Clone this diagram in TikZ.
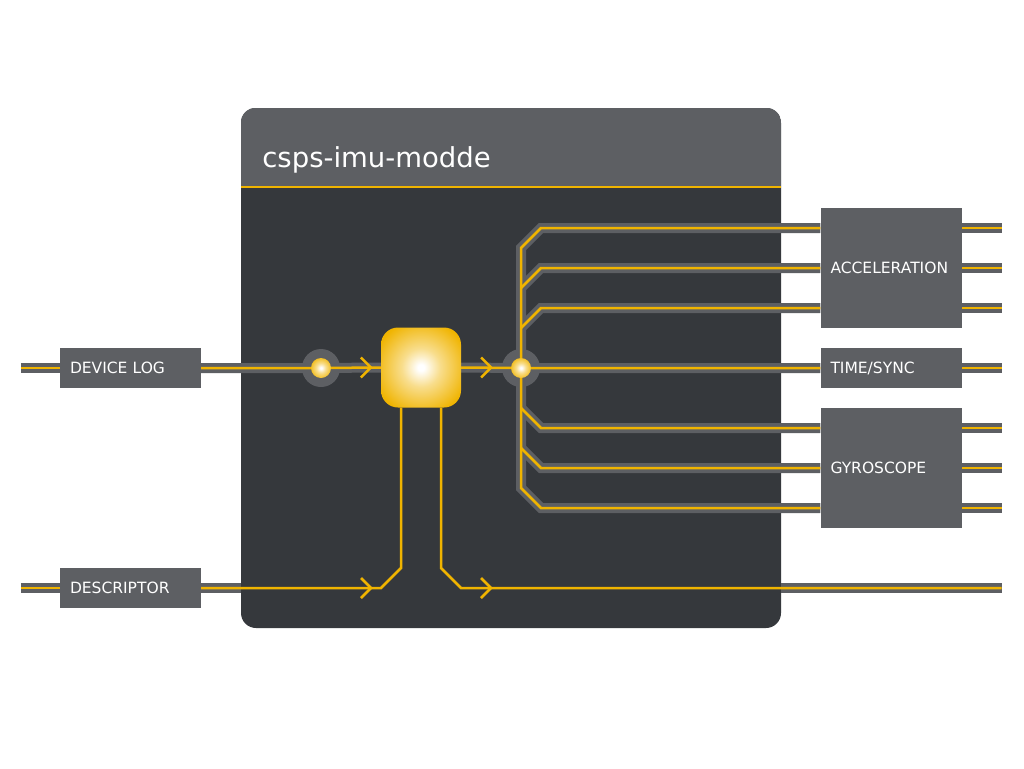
\documentclass[tikz,border=0pt]{standalone}
\usepackage{fontspec}
\setmainfont{DejaVu Sans}
\usetikzlibrary{calc}
\definecolor{yel}{HTML}{F0B400}
\definecolor{boxgray}{HTML}{5D5F63}
\definecolor{modbody}{HTML}{35383C}
\pgfdeclareradialshading{glow}{\pgfpoint{0bp}{0bp}}{color(0bp)=(white); color(2bp)=(white); color(12bp)=(yel!45!white); color(30bp)=(yel); color(50bp)=(yel)}
\pgfdeclarelayer{base}
\pgfdeclarelayer{bands}
\pgfdeclarelayer{rings}
\pgfdeclarelayer{wires}
\pgfsetlayers{base,bands,rings,wires,main}
\begin{document}
\begin{tikzpicture}[x=1pt,y=-1pt,
  band/.style={draw=boxgray, line width=10pt},
  wire/.style={draw=yel, line width=2.5pt},
  portbox/.style={rectangle, fill=boxgray, inner xsep=10pt, inner ysep=0pt,
    text width=121pt, minimum width=141pt, align=left, text=white,
    font=\fontsize{15.5}{18}\selectfont},
  modbox/.style={rectangle, fill=modbody, rounded corners=15pt,
    minimum width=540pt, minimum height=520pt, inner sep=0pt},
  corebox/.style={rectangle, rounded corners=17pt, shading=glow,
    minimum width=80pt, minimum height=80pt, inner sep=0pt},
  ball/.style={circle, shading=glow, minimum size=20pt, inner sep=0pt},
  titletext/.style={anchor=base west, text=white, font=\fontsize{27.5}{32}\selectfont}]
\useasboundingbox (0,0) rectangle (1024,768);

% nodes (main layer)
\node[portbox, minimum height=40pt] (dev) at (130.5,368) {DEVICE LOG};
\node[portbox, minimum height=40pt] (desc) at (130.5,588) {DESCRIPTOR};
\node[portbox, minimum height=120pt] (acc) at (891,268) {ACCELERATION};
\node[portbox, minimum height=40pt] (time) at (891,368) {TIME/SYNC};
\node[portbox, minimum height=120pt] (gyro) at (891,468) {GYROSCOPE};
\node[corebox] (core) at (421,367.5) {};
\node[ball] (j1) at (321,368) {};
\node[ball] (j2) at (521,368) {};

\begin{pgfonlayer}{base}
  \fill[white] (0,0) rectangle (1024,768);
  \node[modbox] (mod) at (511,368) {};
  \begin{scope}
    \clip[rounded corners=15pt] (mod.north west) rectangle (mod.south east);
    \fill[boxgray] (mod.north west) rectangle ($(mod.north east)+(0,79)$);
  \end{scope}
  \draw[yel, line width=2pt] ($(mod.north west)+(0,79)$) -- ($(mod.north east)+(0,79)$);
\end{pgfonlayer}
\node[titletext] (title) at ($(mod.north west)+(18,60)$) {csps-imu-modde};

% port coordinates
\coordinate (a1) at ($(acc.west)+(0,-40)$);
\coordinate (a2) at (acc.west);
\coordinate (a3) at ($(acc.west)+(0,40)$);
\coordinate (g1) at ($(gyro.west)+(0,-40)$);
\coordinate (g2) at (gyro.west);
\coordinate (g3) at ($(gyro.west)+(0,40)$);
\coordinate (cl) at ($(core.south)+(-20,0)$);
\coordinate (cr) at ($(core.south)+(20,0)$);
\coordinate (dout) at ($(desc.east -| acc.east)+(40,0)$);

\begin{pgfonlayer}{bands}
  % device log
  \draw[band] ($(dev.west)+(-39,0)$) -- (dev.west);
  \draw[band] (dev.east) -- (j1.center) -- (core.west);
  \draw[band] (core.east) -- (j2.center) -- (time.west);
  \draw[band] (time.east) -- ++(40,0);
  % trunk with outer branches
  \draw[band] (a1) -- ($(j2.center|-a1)+(20,0)$) -- ($(j2.center|-a1)+(0,20)$)
     -- ($(j2.center|-g3)+(0,-20)$) -- ($(j2.center|-g3)+(20,0)$) -- (g3);
  \draw[band] (a2) -- ($(j2.center|-a2)+(20,0)$) -- ($(j2.center|-a2)+(0,20)$);
  \draw[band] (a3) -- ($(j2.center|-a3)+(20,0)$) -- ($(j2.center|-a3)+(0,20)$);
  \draw[band] (g1) -- ($(j2.center|-g1)+(20,0)$) -- ($(j2.center|-g1)+(0,-20)$);
  \draw[band] (g2) -- ($(j2.center|-g2)+(20,0)$) -- ($(j2.center|-g2)+(0,-20)$);
  % outputs
  \foreach \p in {-40,0,40} {
    \draw[band] ($(acc.east)+(0,\p)$) -- ++(40,0);
    \draw[band] ($(gyro.east)+(0,\p)$) -- ++(40,0);
  }
  % descriptor
  \draw[band] ($(desc.west)+(-39,0)$) -- (desc.west);
  \draw[band] (desc.east) -- (desc.east -| mod.west);
  \draw[band] (desc.east -| mod.east) -- (dout);
\end{pgfonlayer}

\begin{pgfonlayer}{rings}
  \fill[boxgray] (j1.center) circle (19pt);
  \fill[boxgray] (j2.center) circle (19pt);
\end{pgfonlayer}

\begin{pgfonlayer}{wires}
  \draw[wire] ($(dev.west)+(-39,0)$) -- (dev.west);
  \draw[wire] (dev.east) -- (j1.center) -- (core.west);
  \draw[wire] (core.east) -- (j2.center) -- (time.west);
  \draw[wire] (time.east) -- ++(40,0);
  \draw[wire] (a1) -- ($(j2.center|-a1)+(20,0)$) -- ($(j2.center|-a1)+(0,20)$)
     -- ($(j2.center|-g3)+(0,-20)$) -- ($(j2.center|-g3)+(20,0)$) -- (g3);
  \draw[wire] (a2) -- ($(j2.center|-a2)+(20,0)$) -- ($(j2.center|-a2)+(0,20)$);
  \draw[wire] (a3) -- ($(j2.center|-a3)+(20,0)$) -- ($(j2.center|-a3)+(0,20)$);
  \draw[wire] (g1) -- ($(j2.center|-g1)+(20,0)$) -- ($(j2.center|-g1)+(0,-20)$);
  \draw[wire] (g2) -- ($(j2.center|-g2)+(20,0)$) -- ($(j2.center|-g2)+(0,-20)$);
  \foreach \p in {-40,0,40} {
    \draw[wire] ($(acc.east)+(0,\p)$) -- ++(40,0);
    \draw[wire] ($(gyro.east)+(0,\p)$) -- ++(40,0);
  }
  \draw[wire] ($(desc.west)+(-39,0)$) -- (desc.west);
  \draw[wire] (desc.east) -- ($(cl|-desc.east)+(-20,0)$) -- ($(cl|-desc.east)+(0,-20)$) -- (cl);
  \draw[wire] (cr) -- ($(cr|-desc.east)+(0,-20)$) -- ($(cr|-desc.east)+(20,0)$) -- (dout);
\end{pgfonlayer}

% chevrons
\draw[wire] ($(core.west)+(-20,-10)$) -- ($(core.west)+(-10,0)$) -- ($(core.west)+(-20,10)$);
\draw[wire] ($(core.east)+(20,-10)$) -- ($(core.east)+(30,0)$) -- ($(core.east)+(20,10)$);
\draw[wire] ($(cl|-desc.east)+(-40,-10)$) -- ($(cl|-desc.east)+(-30,0)$) -- ($(cl|-desc.east)+(-40,10)$);
\draw[wire] ($(cr|-desc.east)+(40,-10)$) -- ($(cr|-desc.east)+(50,0)$) -- ($(cr|-desc.east)+(40,10)$);
\end{tikzpicture}
\end{document}
